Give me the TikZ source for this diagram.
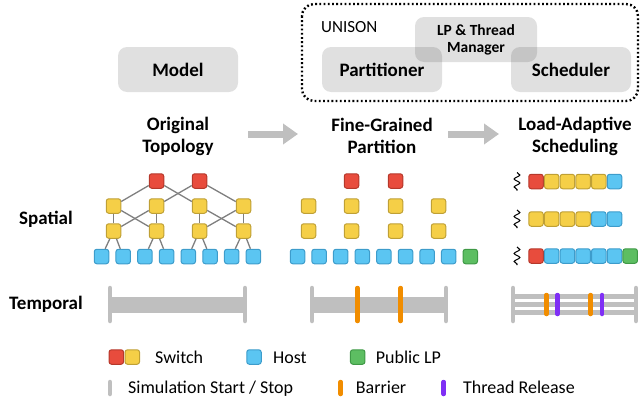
\documentclass[tikz,border=0pt]{standalone}
\usepackage{fontspec}
\setmainfont{Carlito}
\usetikzlibrary{arrows.meta, decorations.pathmorphing, positioning}

% Colores
\definecolor{rojo}{HTML}{E84C3D}
\definecolor{rojoborde}{HTML}{B5382B}
\definecolor{amarillo}{HTML}{F5CF47}
\definecolor{amarilloborde}{HTML}{BFA035}
\definecolor{azul}{HTML}{5BC5F2}
\definecolor{azulborde}{HTML}{3D9CCB}
\definecolor{verde}{HTML}{5DBE62}
\definecolor{verdeborde}{HTML}{3F9946}
\definecolor{gris}{HTML}{BFBFBF}
\definecolor{enlacegris}{HTML}{7F7F7F}
\definecolor{naranja}{HTML}{F18D00}
\definecolor{morado}{HTML}{7F2FF5}

\tikzset{
    cuadro/.style={rectangle, rounded corners=2.5pt, minimum size=14.5pt, inner sep=0pt, line width=1pt},
    sw/.style={cuadro, fill=rojo, draw=rojoborde},
    ag/.style={cuadro, fill=amarillo, draw=amarilloborde},
    hst/.style={cuadro, fill=azul, draw=azulborde},
    plp/.style={cuadro, fill=verde, draw=verdeborde},
    caja/.style={rectangle, rounded corners=9pt, fill=black, fill opacity=0.12, text opacity=1, minimum width=120pt, minimum height=45pt, font=\bfseries\fontsize{19}{21}\selectfont},
    titulo/.style={align=center, font=\bfseries\fontsize{19}{22}\selectfont},
    leyenda/.style={anchor=base west, inner sep=0pt, font=\fontsize{18}{20}\selectfont},
    enlace/.style={draw=enlacegris, line width=1.3pt},
    flecha/.style={draw=gris, line width=7pt, -{Triangle[length=15pt,width=20pt]}},
    palo/.style={line width=4.5pt, line cap=round},
    barra/.style={draw=gris, line width=16pt},
    hilo/.style={draw=gris, line width=4.5pt},
    onda/.style={decorate, decoration={snake, amplitude=2.8pt, segment length=8pt}, line width=1.1pt}
}

\begin{document}
\begin{tikzpicture}[x=1pt,y=-1pt]
    \useasboundingbox (0,0) rectangle (640,399);

    % Recuadro punteado de UNISON
    \draw[line width=2.4pt, dash pattern=on 1.8pt off 2.4pt, rounded corners=12pt] (302,4) rectangle (638,101);
    \node[anchor=base west, inner sep=0pt, font=\fontsize{17}{19}\selectfont] (unison) at (321,32) {UNISON};

    % Cajas de componentes
    \node[caja] (model) at (178,69.5) {Model};
    \node[caja] (partitioner) at (382,69.5) {Partitioner};
    \node[caja] (scheduler) at (571,69.5) {Scheduler};
    \node[caja, minimum width=122pt, align=center, font=\bfseries\fontsize{15.5}{17}\selectfont] (manager) at (476,39.5) {LP \& Thread\\Manager};

    % Titulos de cada etapa
    \node[titulo] (orig) at (178,136) {Original\\Topology};
    \node[titulo] (fine) at (382,136) {Fine-Grained\\Partition};
    \node[titulo] (load) at (575,136) {Load-Adaptive\\Scheduling};

    % Flechas entre etapas
    \coordinate (F1a) at (248,134);
    \coordinate (F1b) at (298,134);
    \coordinate (F2a) at (448,134);
    \coordinate (F2b) at (499,134);
    \draw[flecha] (F1a) -- (F1b);
    \draw[flecha] (F2a) -- (F2b);

    % Etiquetas de filas
    \node[titulo] (spatial) at (46,219) {Spatial};
    \node[titulo] (temporal) at (46,304) {Temporal};

    % Topologia original
    \node[sw] (topR1) at (156.5,181) {};
    \node[sw] (topR2) at (199.5,181) {};
    \foreach \x [count=\i] in {113.5,156.5,199.5,243.5} {
        \node[ag] (topA\i) at (\x,206) {};
        \node[ag] (topE\i) at (\x,231) {};
    }
    \foreach \i in {1,...,8}
        \node[hst] (topH\i) at ({101.5+21.7*(\i-1)},256.5) {};
    \foreach \a/\b in {topR1/topA1, topR1/topA3, topR2/topA2, topR2/topA4,
                       topA1/topE1, topA1/topE2, topA2/topE1, topA2/topE2,
                       topA3/topE3, topA3/topE4, topA4/topE3, topA4/topE4,
                       topE1/topH1, topE1/topH2, topE2/topH3, topE2/topH4,
                       topE3/topH5, topE3/topH6, topE4/topH7, topE4/topH8}
        \draw[enlace] (\a) -- (\b);

    % Particion de grano fino
    \node[sw] (parR1) at (351.5,181) {};
    \node[sw] (parR2) at (395.5,181) {};
    \foreach \x [count=\i] in {308.5,351.5,395.5,438.5} {
        \node[ag] (parA\i) at (\x,206) {};
        \node[ag] (parE\i) at (\x,231) {};
    }
    \foreach \i in {1,...,8}
        \node[hst] (parH\i) at ({297.5+21.6*(\i-1)},256.5) {};
    \node[plp] (parP) at (470.3,256.5) {};

    % Planificacion adaptativa
    \foreach \c [count=\i] in {sw,ag,ag,ag,ag,hst}
        \node[\c] (schA\i) at ({536+15.7*(\i-1)},181.5) {};
    \foreach \c [count=\i] in {ag,ag,ag,ag,hst,hst}
        \node[\c] (schB\i) at ({536+15.7*(\i-1)},219) {};
    \foreach \c [count=\i] in {sw,hst,hst,hst,hst,hst,plp}
        \node[\c] (schC\i) at ({536+15.7*(\i-1)},256) {};
    \foreach \y in {181.5,219,256}
        \draw[onda] (517,{\y-9}) -- (517,{\y+9});

    % Barras temporales
    \draw[barra] (110,305) -- (245,305);
    \draw[barra] (312,305) -- (446,305);
    \foreach \y in {296.5,304.5,312.5}
        \draw[hilo] (513,\y) -- (636,\y);
    \foreach \x in {110,245,312,446,513,636}
        \draw[palo, gris] (\x,288) -- (\x,321);
    \foreach \x in {357.5,400.7}
        \draw[palo, naranja] (\x,288) -- (\x,321);
    \foreach \x in {546.5,590.7}
        \draw[palo, naranja] (\x,295) -- (\x,314);
    \foreach \x in {557.5,602.2}
        \draw[palo, morado] (\x,295) -- (\x,314);

    % Leyenda
    \node[sw] (legR) at (116.3,357) {};
    \node[ag] (legA) at (132.3,357) {};
    \node[leyenda] (legSwitch) at (155,363) {Switch};
    \node[hst] (legH) at (254,357) {};
    \node[leyenda] (legHost) at (273,363) {Host};
    \node[plp] (legP) at (357.7,357) {};
    \node[leyenda] (legPublic) at (375.7,363) {Public LP};
    \draw[palo, gris] (110,382) -- (110,394);
    \node[leyenda] (legSim) at (128,393.5) {Simulation Start / Stop};
    \draw[palo, naranja] (340.7,382) -- (340.7,394);
    \node[leyenda] (legBarrier) at (355.7,393.5) {Barrier};
    \draw[palo, morado] (443.6,382) -- (443.6,394);
    \node[leyenda] (legThread) at (463,393.5) {Thread Release};

\end{tikzpicture}
\end{document}
